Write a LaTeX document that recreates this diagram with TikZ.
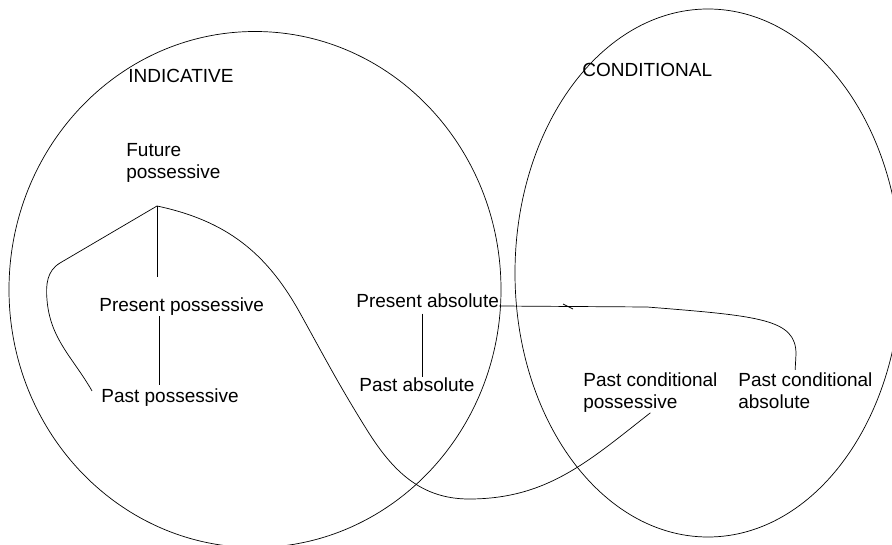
\documentclass[tikz,border=0pt]{standalone}
\usepackage{fontspec}
\setmainfont{Liberation Sans}
\begin{document}
\begin{tikzpicture}[x=1pt,y=1pt,line width=0.7pt,
       txt/.style={inner sep=0pt,anchor=base west,align=left,font=\fontsize{19}{21.5}\selectfont}]
       \useasboundingbox(0,0)rectangle(892,544);
       \clip(0,0)rectangle(892,544);
       \coordinate(I)at(255,254.5);
       \coordinate(K)at(708,271);
       \draw(I)ellipse[x radius=246pt,y radius=258pt];
       \draw(K)ellipse[x radius=193pt,y radius=264pt];
       \node[txt](ind)at(128,461){INDICATIVE};
       \node[txt](con)at(582,467){CONDITIONAL};
       \node[txt](fp)at(126,365.5){Future\\possessive};
       \node[txt](prp)at(99,232){Present possessive};
       \node[txt](pap)at(101,141){Past possessive};
       \node[txt](pra)at(356,236){Present absolute};
       \node[txt](paa)at(359,152){Past absolute};
       \node[txt](pcp)at(583,135.5){Past conditional\\possessive};
       \node[txt](pca)at(738,135.5){Past conditional\\absolute};
       \coordinate(T)at(157,338);
       \draw[shorten >=21pt](T)--(prp.north-|T);
       \draw[shorten >=4pt](prp.south-|159,0)--(pap.north-|159,0);
       \draw[shorten <=5pt,shorten >=1pt](pra.south-|422,0)--(paa.north-|422,0);
       \draw[shorten >=3pt]([yshift=2pt]pra.base east)--(647,237)..controls(760,228)and(796,225)..(796,190)--(pca.north-|795,0);
       \draw(563,240)--(573,235);
       \coordinate(S)at([shift={(-9,-2)}]pap.north west);
       \coordinate(W1)at(47,244);
       \coordinate(W2)at(60,281);
       \coordinate(W3)at(300,231);
       \coordinate(W4)at(367,114);
       \coordinate(W5)at(469,45);
       \draw(S)to[out=120,in=-85](W1)to[out=95,in=211](W2)--(T)
         to[out=-12,in=119](W3)to[out=-61,in=122](W4)to[out=-58,in=180](W5)
         to[out=0,in=218](pcp.south);
      \end{tikzpicture}
\end{document}
